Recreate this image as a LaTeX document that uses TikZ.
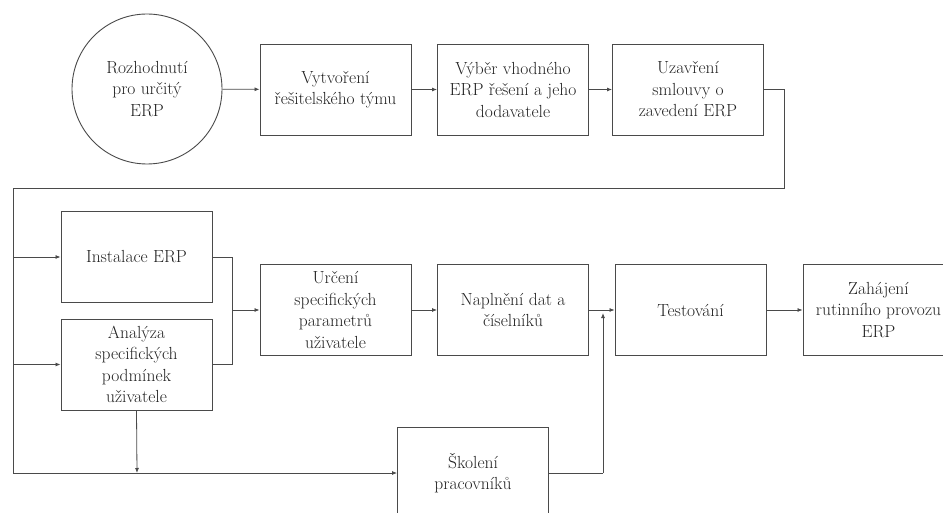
\documentclass[tikz,border=0pt]{standalone}
\usepackage{fontspec}
\usetikzlibrary{arrows.meta}
\definecolor{ink}{HTML}{222222}
\definecolor{wire}{HTML}{4A4A4A}
\begin{document}
\begin{tikzpicture}[x=1pt,y=-1pt,
  every node/.style={text=ink,font=\fontsize{17.5}{21.5}\selectfont,align=center,inner sep=0pt},
  stage/.style={draw=wire,line width=0.9pt,rectangle,minimum width=151pt,minimum height=91pt},
  start/.style={draw=wire,line width=0.9pt,circle,minimum size=150pt},
  link/.style={draw=wire,line width=0.8pt},
  flow/.style={link,-{Latex[length=5pt,width=4pt]}}]
\useasboundingbox (0,0) rectangle (943,513);
\clip (0,0) rectangle (943,513);

% top row
\node[start] (dec) at (147,89) {Rozhodnutí\\pro určitý\\ERP};
\node[stage] (team) at (335.5,89.5) {Vytvoření\\řešitelského týmu};
\node[stage] (sel) at (513,89.5) {Výběr vhodného\\ERP řešení a jeho\\dodavatele};
\node[stage] (con) at (688,89.5) {Uzavření\\smlouvy o\\zavedení ERP};

% second part
\node[stage] (inst) at (136.5,257) {Instalace ERP};
\node[stage] (anal) at (136.5,364.5) {Analýza\\specifických\\podmínek\\uživatele};
\node[stage] (par) at (335.5,310) {Určení\\specifických\\parametrů\\uživatele};
\node[stage] (fill) at (513,310) {Naplnění dat a\\číselníků};
\node[stage] (test) at (690.5,310) {Testování};
\node[stage] (go) at (878.5,310) {Zahájení\\rutinního provozu\\ERP};
\node[stage] (train) at (473,473) {Školení\\pracovníků};

% junction points
\coordinate (r1) at (784,89.5);
\coordinate (r2) at (784,188);
\coordinate (l1) at (13,188);
\coordinate (l2) at (13,473);
\coordinate (bi) at (13,257);
\coordinate (ba) at (13,364.5);
\coordinate (mtop) at (232,257);
\coordinate (mbot) at (232,364.5);
\coordinate (mmid) at (232,310);
\coordinate (dn) at (137,473);
\coordinate (up1) at (603,473);
\coordinate (up2) at (603,313);

\draw[flow] (dec) -- (team);
\draw[flow] (team) -- (sel);
\draw[flow] (sel) -- (con);
\draw[link] (con.east) -- (r1) -- (r2) -- (l1) -- (l2);
\draw[flow] (l2) -- (train.west);
\draw[flow] (bi) -- (inst.west);
\draw[flow] (ba) -- (anal.west);
\draw[link] (inst.east) -- (mtop) -- (mbot) -- (anal.east);
\draw[flow] (mmid) -- (par.west);
\draw[flow] (anal.south) -- (dn);
\draw[flow] (par) -- (fill);
\draw[flow] (fill) -- (test);
\draw[flow] (test) -- (go);
\draw[link] (train.east) -- (up1);
\draw[flow] (up1) -- (up2);
\end{tikzpicture}
\end{document}
